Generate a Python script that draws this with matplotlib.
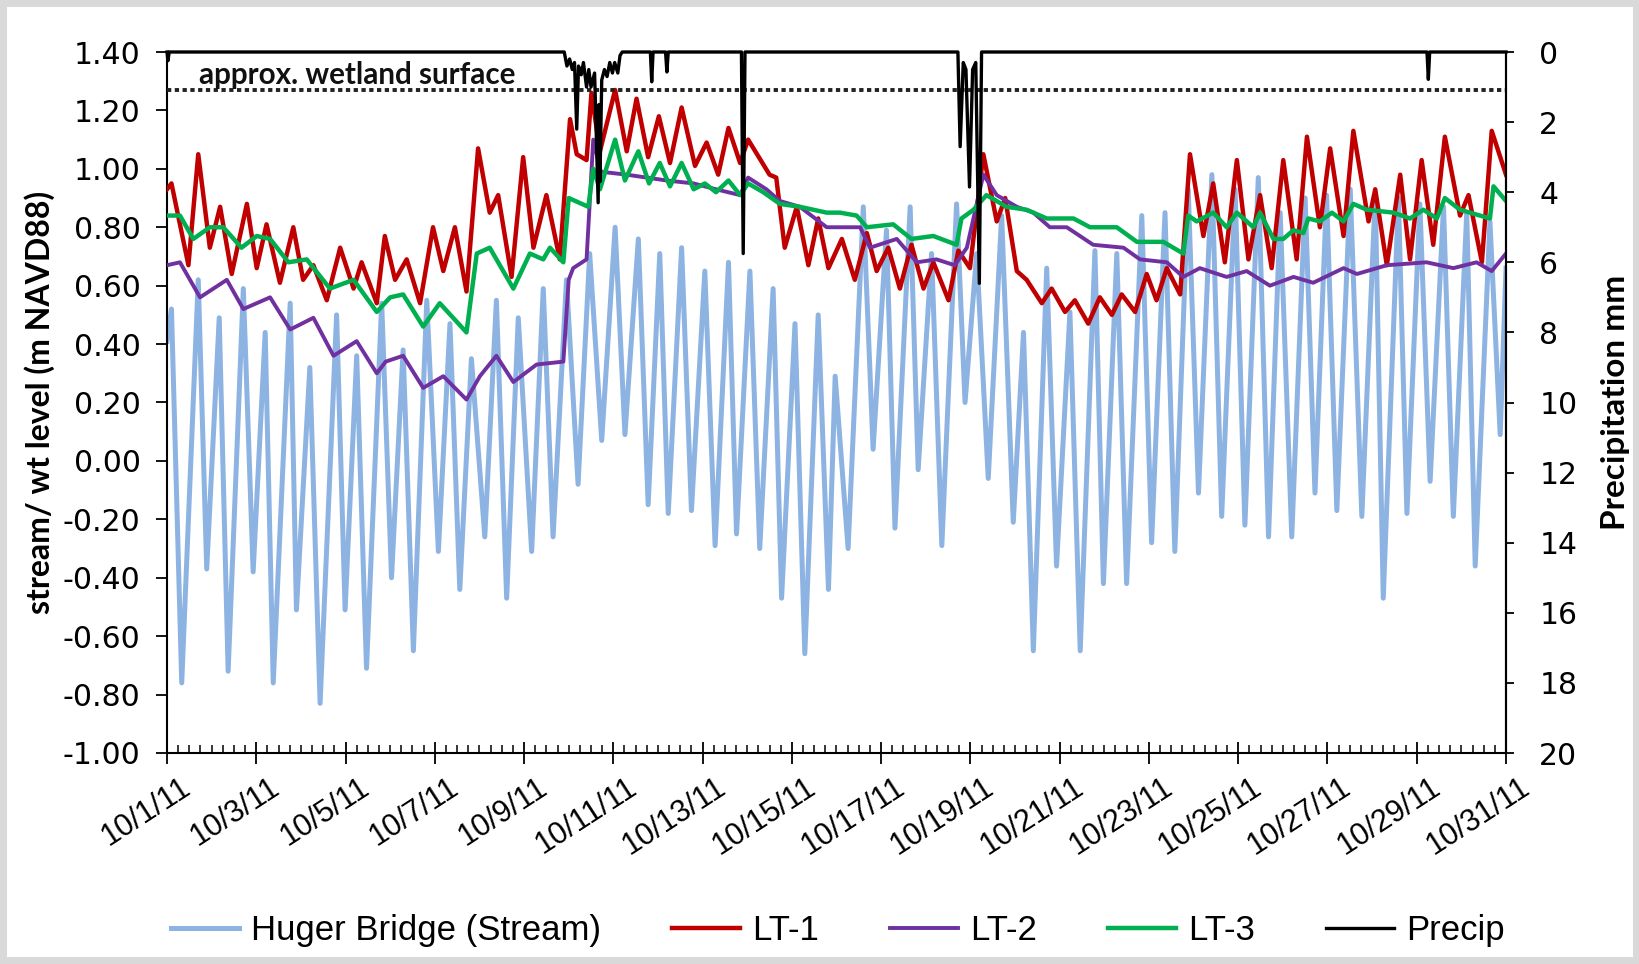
import matplotlib
matplotlib.use('Agg')
import matplotlib.pyplot as plt
from matplotlib.patches import Rectangle
from matplotlib.transforms import ScaledTranslation, blended_transform_factory

# ---------------- data (days since 10/1/11 00:00) ----------------
tide_t = [0.00, 0.10, 0.33, 0.70, 0.89, 1.17, 1.37, 1.71, 1.93, 2.20, 2.38, 2.76, 2.90,
          3.20, 3.43, 3.80, 3.99, 4.25, 4.47, 4.81, 5.03, 5.29, 5.52, 5.82, 6.08, 6.34,
          6.56, 6.82, 7.12, 7.38, 7.61, 7.87, 8.17, 8.43, 8.65, 8.95, 9.21, 9.47, 9.74,
          10.04, 10.26, 10.56, 10.78, 11.04, 11.23, 11.53, 11.75, 12.05, 12.28, 12.58,
          12.76, 13.06, 13.28, 13.58, 13.77, 14.07, 14.29, 14.59, 14.82, 14.97, 15.26,
          15.60, 15.82, 16.12, 16.31, 16.65, 16.83, 17.13, 17.36, 17.69, 17.88, 18.14,
          18.40, 18.70, 18.96, 19.19, 19.41, 19.71, 19.93, 20.23, 20.46, 20.79, 20.98,
          21.28, 21.50, 21.84, 22.06, 22.36, 22.58, 22.88, 23.11, 23.41, 23.63, 23.93,
          24.15, 24.45, 24.68, 24.94, 25.20, 25.50, 25.72, 25.98, 26.21, 26.51, 26.77,
          27.07, 27.25, 27.59, 27.78, 28.07, 28.30, 28.60, 28.82, 29.12, 29.31, 29.64,
          29.87, 30.00]
tide_v = [0.41, 0.52, -0.76, 0.62, -0.37, 0.49, -0.72, 0.59, -0.38, 0.44, -0.76, 0.54, -0.51,
          0.32, -0.83, 0.50, -0.51, 0.36, -0.71, 0.54, -0.40, 0.38, -0.65, 0.55, -0.31, 0.47,
          -0.44, 0.35, -0.26, 0.55, -0.47, 0.49, -0.31, 0.59, -0.26, 0.62, -0.08, 0.71, 0.07,
          0.80, 0.09, 0.76, -0.15, 0.71, -0.18, 0.73, -0.17, 0.65, -0.29, 0.68,
          -0.25, 0.65, -0.30, 0.59, -0.47, 0.47, -0.66, 0.50, -0.44, 0.29, -0.30,
          0.87, 0.04, 0.79, -0.23, 0.87, -0.03, 0.71, -0.29, 0.88, 0.20, 0.71,
          -0.06, 0.84, -0.21, 0.44, -0.65, 0.66, -0.36, 0.51, -0.65, 0.72, -0.42,
          0.71, -0.42, 0.84, -0.28, 0.85, -0.31, 0.93, -0.11, 0.98, -0.19, 0.93,
          -0.22, 0.97, -0.26, 0.85, -0.26, 0.90, -0.11, 0.91, -0.17, 0.93, -0.19,
          0.91, -0.47, 0.90, -0.18, 0.88, -0.07, 0.87, -0.19, 0.85, -0.36, 0.82,
          0.09, 0.66]

lt1_t = [0.00, 0.10, 0.48, 0.70, 0.96, 1.19, 1.45, 1.79, 2.01, 2.23, 2.53, 2.83, 3.05, 3.28,
         3.58, 3.88, 4.18, 4.36, 4.70, 4.88, 5.11, 5.37, 5.67, 5.96, 6.19, 6.45, 6.71, 6.97,
         7.23, 7.42, 7.72, 7.98, 8.21, 8.50, 8.80, 9.03, 9.18, 9.40, 9.51, 9.70, 10.04,
         10.30, 10.52, 10.78, 11.02, 11.27, 11.53, 11.83, 12.09, 12.35, 12.58, 12.84, 13.02,
         13.50, 13.65, 13.84, 14.11, 14.37, 14.59, 14.82, 15.12, 15.41, 15.68, 15.90, 16.16,
         16.42, 16.68, 16.95, 17.17, 17.51, 17.73, 17.99, 18.29, 18.59, 18.78, 19.04, 19.26,
         19.60, 19.82, 20.12, 20.34, 20.64, 20.90, 21.17, 21.39, 21.69, 21.95, 22.17, 22.40,
         22.70, 22.92, 23.22, 23.44, 23.70, 23.97, 24.23, 24.49, 24.75, 25.01, 25.31, 25.54,
         25.83, 26.06, 26.36, 26.58, 26.92, 27.07, 27.33, 27.63, 27.85, 28.11, 28.37, 28.63,
         28.97, 29.16, 29.46, 29.68, 30.00]
lt1_v = [0.93, 0.95, 0.67, 1.05, 0.73, 0.87, 0.64, 0.88, 0.66, 0.81, 0.61, 0.80, 0.62, 0.67,
         0.55, 0.73, 0.59, 0.68, 0.54, 0.77, 0.62, 0.69, 0.54, 0.80, 0.65, 0.80, 0.58, 1.07,
         0.85, 0.91, 0.63, 1.04, 0.73, 0.91, 0.69, 1.17, 1.05, 1.03, 1.26, 1.06, 1.27,
         1.06, 1.24, 1.04, 1.18, 1.02, 1.21, 1.01, 1.09, 0.98, 1.14, 1.02, 1.10,
         0.98, 0.97, 0.73, 0.87, 0.67, 0.83, 0.66, 0.76, 0.62, 0.78, 0.65, 0.73,
         0.59, 0.74, 0.59, 0.68, 0.55, 0.72, 0.66, 1.05, 0.82, 0.90, 0.65, 0.62,
         0.54, 0.59, 0.51, 0.55, 0.47, 0.56, 0.50, 0.57, 0.51, 0.64, 0.55, 0.66,
         0.57, 1.05, 0.77, 0.95, 0.68, 1.03, 0.69, 0.91, 0.66, 1.03, 0.69, 1.11,
         0.80, 1.07, 0.77, 1.13, 0.82, 0.93, 0.67, 0.98, 0.69, 1.03, 0.74, 1.11,
         0.84, 0.91, 0.68, 1.13, 0.98]

lt2_t = [0.00, 0.29, 0.74, 1.34, 1.71, 2.31, 2.76, 3.28, 3.73, 4.25, 4.70, 4.90, 5.29, 5.74,
         6.19, 6.71, 7.01, 7.38, 7.76, 8.28, 8.88, 9.00, 9.10, 9.40, 9.55, 9.72, 10.30,
         11.20, 11.80, 12.30, 12.84, 13.02, 13.43, 13.73, 14.18, 14.78, 15.08, 15.53, 15.75,
         16.35, 16.80, 17.24, 17.65, 17.92, 18.29, 18.59, 19.04, 19.41, 19.78, 20.16, 20.75,
         21.43, 21.80, 22.40, 22.77, 23.14, 23.74, 24.19, 24.71, 25.24, 25.68, 26.36, 26.66,
         27.33, 28.22, 28.82, 29.34, 29.68, 30.00]
lt2_v = [0.67, 0.68, 0.56, 0.62, 0.52, 0.56, 0.45, 0.49, 0.36, 0.41, 0.30, 0.34, 0.36, 0.25,
         0.29, 0.21, 0.29, 0.36, 0.27, 0.33, 0.34, 0.62, 0.66, 0.69, 1.10, 0.99, 0.98,
         0.96, 0.95, 0.93, 0.91, 0.97, 0.93, 0.89, 0.87, 0.80, 0.80, 0.80, 0.73,
         0.76, 0.68, 0.69, 0.67, 0.73, 0.98, 0.91, 0.87, 0.85, 0.80, 0.80, 0.74,
         0.73, 0.69, 0.68, 0.63, 0.66, 0.63, 0.65, 0.60, 0.63, 0.61, 0.66, 0.64,
         0.67, 0.68, 0.66, 0.68, 0.65, 0.71]

lt3_t = [0.00, 0.29, 0.59, 0.96, 1.26, 1.67, 2.01, 2.31, 2.72, 3.13, 3.65, 4.18, 4.70, 5.00,
         5.29, 5.74, 6.11, 6.71, 6.94, 7.23, 7.76, 8.13, 8.43, 8.58, 8.88, 9.00, 9.44, 9.55,
         9.70, 10.04, 10.26, 10.56, 10.80, 11.04, 11.27, 11.53, 11.80, 12.05, 12.30, 12.58,
         12.84, 13.02, 13.36, 13.73, 14.18, 14.78, 15.08, 15.45, 15.68, 16.27, 16.68, 17.17,
         17.69, 17.80, 18.07, 18.36, 18.81, 19.26, 19.71, 20.31, 20.68, 21.28, 21.73, 22.32,
         22.77, 22.88, 23.07, 23.44, 23.74, 23.97, 24.34, 24.49, 24.79, 25.01, 25.24, 25.46,
         25.57, 25.83, 26.10, 26.36, 26.58, 26.88, 27.48, 27.85, 28.15, 28.45, 28.63, 28.97,
         29.64, 29.72, 30.00]
lt3_v = [0.84, 0.84, 0.76, 0.80, 0.80, 0.73, 0.77, 0.76, 0.68, 0.69, 0.59, 0.62, 0.51, 0.56,
         0.57, 0.46, 0.54, 0.44, 0.71, 0.73, 0.59, 0.71, 0.69, 0.73, 0.68, 0.90, 0.87, 1.00,
         0.93, 1.10, 0.96, 1.06, 0.95, 1.02, 0.94, 1.02, 0.93, 0.95, 0.92, 0.96,
         0.91, 0.95, 0.92, 0.88, 0.87, 0.85, 0.85, 0.84, 0.80, 0.81, 0.76, 0.77,
         0.74, 0.83, 0.86, 0.91, 0.87, 0.86, 0.83, 0.83, 0.80, 0.80, 0.75, 0.75,
         0.71, 0.84, 0.82, 0.85, 0.80, 0.85, 0.80, 0.85, 0.76, 0.76, 0.79, 0.78,
         0.83, 0.82, 0.85, 0.82, 0.88, 0.86, 0.85, 0.83, 0.86, 0.83, 0.90, 0.86,
         0.83, 0.94, 0.89]

precip_t = [0.00, 0.02, 0.05, 8.90, 8.96, 9.02, 9.08, 9.13, 9.18, 9.22, 9.28, 9.33, 9.40,
            9.45, 9.50, 9.58, 9.66, 9.68, 9.70, 9.74, 9.80, 9.86, 9.92, 9.98, 10.03, 10.10,
            10.15, 10.20, 10.83, 10.86, 10.89, 11.17, 11.20, 11.23, 12.87, 12.91, 12.95,
            17.72, 17.77, 17.84, 17.90, 17.98, 18.05, 18.12, 18.20, 18.25, 28.23, 28.26,
            28.29, 30.00]
precip_mm = [0.0, 0.25, 0.0, 0.0, 0.4, 0.2, 0.5, 0.3, 2.2, 0.4, 0.65, 0.3, 1.0,
             0.5, 1.0, 0.6, 4.3, 1.5, 3.7, 0.8, 0.5, 0.7, 0.3, 0.6, 0.3, 0.6,
             0.1, 0.0, 0.0, 0.85, 0.0, 0.0, 0.57, 0.0, 0.0, 5.75, 0.0,
             0.0, 2.7, 0.3, 0.5, 3.85, 0.5, 0.3, 6.6, 0.0, 0.0, 0.78,
             0.0, 0.0]

wetland_surface = 1.27
date_ticks = [0, 2, 4, 6, 8, 10, 12, 14, 16, 18, 20, 22, 24, 26, 28, 30]
date_labels = ['10/1/11', '10/3/11', '10/5/11', '10/7/11', '10/9/11', '10/11/11',
               '10/13/11', '10/15/11', '10/17/11', '10/19/11', '10/21/11', '10/23/11',
               '10/25/11', '10/27/11', '10/29/11', '10/31/11']
yticks = [1.40, 1.20, 1.00, 0.80, 0.60, 0.40, 0.20, 0.00, -0.20, -0.40, -0.60, -0.80, -1.00]
pticks = [0, 2, 4, 6, 8, 10, 12, 14, 16, 18, 20]

# ---------------- figure ----------------
W, H = 1640, 964
fig = plt.figure(figsize=(W / 100, H / 100), dpi=100)
fig.patch.set_facecolor('#d9d9d9')
fig.patches.append(Rectangle((7 / W, 7 / H), (W - 14) / W, (H - 14) / H,
                             transform=fig.transFigure, facecolor='white',
                             edgecolor='none', zorder=-10))

narrow = ['Liberation Sans Narrow', 'Liberation Sans', 'DejaVu Sans']

ax = fig.add_axes([167 / W, 1 - 753 / H, (1506 - 167) / W, (753 - 52) / H])
ax.set_facecolor('none')

c_tide = '#8db3e2'
c_lt1 = '#c00000'
c_lt2 = '#7030a0'
c_lt3 = '#00b050'

l_tide, = ax.plot(tide_t, tide_v, color=c_tide, lw=3.6, solid_joinstyle='round', zorder=2)
l_lt1, = ax.plot(lt1_t, lt1_v, color=c_lt1, lw=3.2, solid_joinstyle='round', zorder=3)
l_lt2, = ax.plot(lt2_t, lt2_v, color=c_lt2, lw=2.8, solid_joinstyle='round', zorder=4)
l_lt3, = ax.plot(lt3_t, lt3_v, color=c_lt3, lw=3.2, solid_joinstyle='round', zorder=5)

ax.plot([0, 30], [wetland_surface, wetland_surface], color='#222222', lw=2.8,
        linestyle=(0, (1.1, 0.9)), zorder=6)
ax.text(0.72, 1.322, 'approx. wetland surface', fontsize=21.3, fontweight='bold',
        family=['Lato', 'DejaVu Sans'], color='#111111', va='center', ha='left', zorder=7)

ax.set_xlim(0, 30)
ax.set_ylim(-1.0, 1.4)
ax.set_yticks(yticks)
ax.set_yticklabels(['%.2f' % v for v in yticks])
ax.set_xticks(date_ticks)
ax.set_xticks([i * 0.25 for i in range(121)], minor=True)
ax.set_xticklabels([])

# rotated date labels, anchored at their upper-right corner just right of each tick
lab_tr = blended_transform_factory(ax.transData, ax.transAxes) + \
    ScaledTranslation(0.13, -0.19, fig.dpi_scale_trans)
for xt, lab in zip(date_ticks, date_labels):
    ax.text(xt, 0, lab, transform=lab_tr, rotation=33, ha='right', va='top',
            rotation_mode='anchor', fontsize=22, family=narrow, clip_on=False)

ax.spines['top'].set_visible(False)
for s in ['left', 'bottom', 'right']:
    ax.spines[s].set_linewidth(1.5)
    ax.spines[s].set_color('black')

ax.tick_params(axis='y', which='major', direction='out', length=8, width=1.3,
               labelsize=21.5, pad=11)
ax.tick_params(axis='x', which='major', direction='inout', length=16, width=1.3, pad=6)
ax.tick_params(axis='x', which='minor', direction='in', length=6, width=1.1)
for lab in ax.get_yticklabels():
    lab.set_family('DejaVu Sans')

ax.set_ylabel('stream/ wt level (m NAVD88)', fontsize=23, fontweight='bold',
              family=['Lato', 'DejaVu Sans'], labelpad=6)

ax2 = ax.twinx()
ax2.set_facecolor('none')
l_pr, = ax2.plot(precip_t, precip_mm, color='black', lw=2.4, clip_on=False, zorder=8)
ax2.set_ylim(20, 0)
ax2.set_xlim(0, 30)
ax2.set_yticks(pticks)
ax2.set_yticklabels([str(p) for p in pticks])
ax2.tick_params(axis='y', direction='out', length=6, width=1.3, labelsize=21.5, pad=18)
for lab in ax2.get_yticklabels():
    lab.set_family('DejaVu Sans')
for s in ['top', 'left', 'bottom']:
    ax2.spines[s].set_visible(False)
ax2.spines['right'].set_linewidth(1.5)
ax2.set_ylabel('Precipitation mm', fontsize=24, fontweight='bold',
               family=['Lato', 'DejaVu Sans'], labelpad=17)

handles = [l_tide, l_lt1, l_lt2, l_lt3, l_pr]
names = ['Huger Bridge (Stream)', 'LT-1', 'LT-2', 'LT-3', 'Precip']
leg = fig.legend(handles, names, loc='center', bbox_to_anchor=(0.511, 0.035), ncol=5,
                 frameon=False, handlelength=1.95, columnspacing=2.05, handletextpad=0.35,
                 prop={'family': narrow, 'size': 25})

fig.savefig('out.png', dpi=100, facecolor=fig.get_facecolor())
